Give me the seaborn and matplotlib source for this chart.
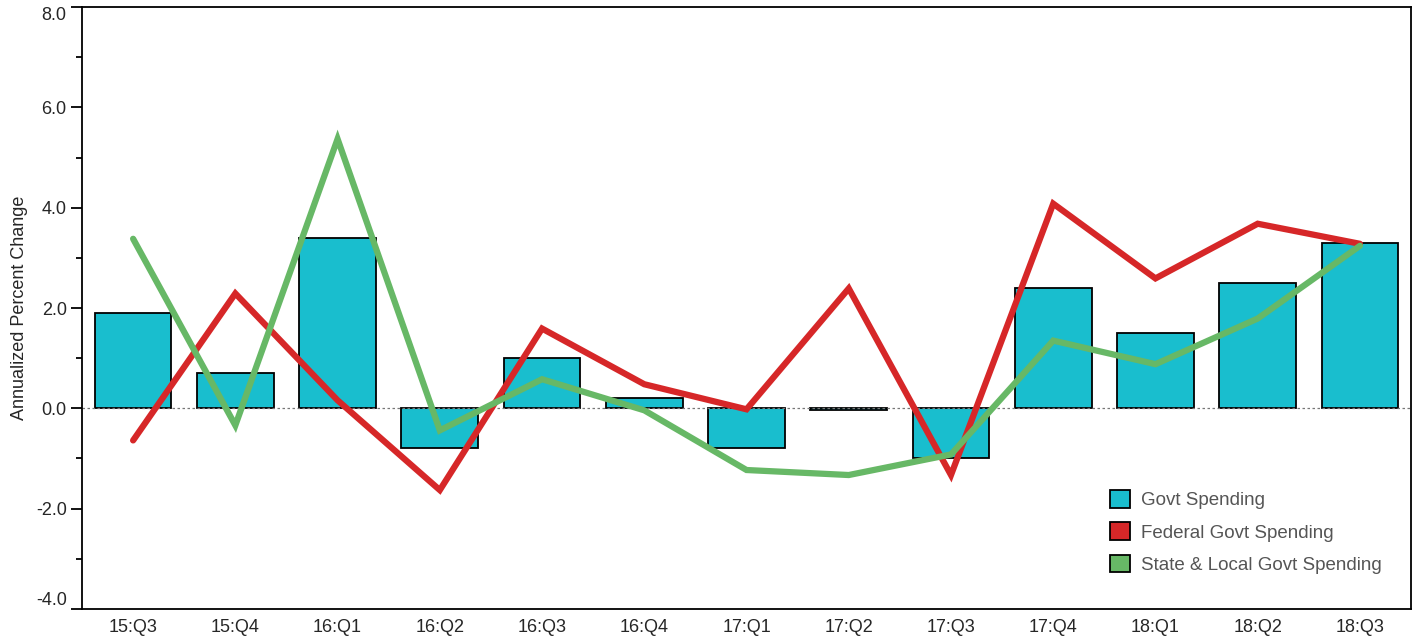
import numpy as np
import pandas as pd
import matplotlib.pyplot as plt
from matplotlib.patches import Patch
import seaborn as sns

quarters = ["15:Q3", "15:Q4", "16:Q1", "16:Q2", "16:Q3", "16:Q4", "17:Q1",
            "17:Q2", "17:Q3", "17:Q4", "18:Q1", "18:Q2", "18:Q3"]
govt = [1.9, 0.7, 3.4, -0.8, 1.0, 0.2, -0.8, -0.03, -1.0, 2.4, 1.5, 2.5, 3.3]
federal = [-0.64, 2.29, 0.16, -1.63, 1.59, 0.48, -0.02, 2.39, -1.33, 4.08, 2.59, 3.68, 3.28]
state_local = [3.38, -0.34, 5.37, -0.44, 0.58, -0.04, -1.23, -1.33, -0.92, 1.35, 0.88, 1.79, 3.24]

bar_color = "#19BECE"
red = "#D62728"
green = "#67B866"

sns.set_theme(style="white")
plt.rcParams["font.family"] = ["Liberation Sans", "DejaVu Sans"]

df = pd.DataFrame({"pos": np.arange(len(quarters)), "quarter": quarters,
                   "govt": govt, "federal": federal, "state_local": state_local})

fig, ax = plt.subplots(figsize=(14.21, 6.41), dpi=100)
fig.subplots_adjust(left=0.0577, right=0.993, top=0.989, bottom=0.05)

sns.barplot(data=df, x="pos", y="govt", native_scale=True, width=0.75,
            color=bar_color, saturation=1, edgecolor="black", linewidth=1.3, ax=ax)
ax.axhline(0, color="#777777", lw=0.9, ls=(0, (2, 2)), zorder=1.5)
sns.lineplot(data=df, x="pos", y="federal", color=red, lw=4.5, ax=ax,
             solid_capstyle="round", solid_joinstyle="miter", zorder=3)
sns.lineplot(data=df, x="pos", y="state_local", color=green, lw=4.5, ax=ax,
             solid_capstyle="round", solid_joinstyle="miter", zorder=3)

ax.set_xlim(-0.5, len(quarters) - 0.5)
ax.set_ylim(-4, 8)
ax.set_xticks(df["pos"])
ax.set_xticklabels(quarters, fontsize=13)
ax.set_xticks(np.arange(-0.5, len(quarters)), minor=True)
ax.tick_params(axis="x", which="major", length=0, pad=7)
ax.tick_params(axis="x", which="minor", length=8, width=1.3, direction="out", color="black")
yt = np.arange(-4, 9, 2)
ax.set_yticks(yt)
ax.set_yticklabels([f"{v:.1f}" for v in yt], fontsize=13)
ax.set_yticks(np.arange(-3, 8, 2), minor=True)
ax.tick_params(axis="y", which="major", length=8, width=1.3, direction="out", color="black", left=True, pad=3)
ax.tick_params(axis="y", which="minor", length=4, width=1.3, direction="out", color="black", left=True)
labels = ax.get_yticklabels()
labels[-1].set_verticalalignment("top")
labels[0].set_verticalalignment("bottom")
for s in ax.spines.values():
    s.set_color("black")
    s.set_linewidth(1.3)

ax.set_xlabel("")
ax.set_ylabel("Annualized Percent Change", fontsize=13, labelpad=6)

handles = [Patch(facecolor=bar_color, edgecolor="black", lw=1.3),
           Patch(facecolor=red, edgecolor="black", lw=1.3),
           Patch(facecolor=green, edgecolor="black", lw=1.3)]
leg = ax.legend(handles, ["Govt Spending", "Federal Govt Spending", "State & Local Govt Spending"],
                loc="lower right", bbox_to_anchor=(0.991, 0.03), frameon=False, fontsize=13.5,
                handlelength=1.07, handleheight=1.07, labelspacing=0.7, handletextpad=0.6)
for t in leg.get_texts():
    t.set_color("#555555")

fig.savefig("out.png", dpi=100)
